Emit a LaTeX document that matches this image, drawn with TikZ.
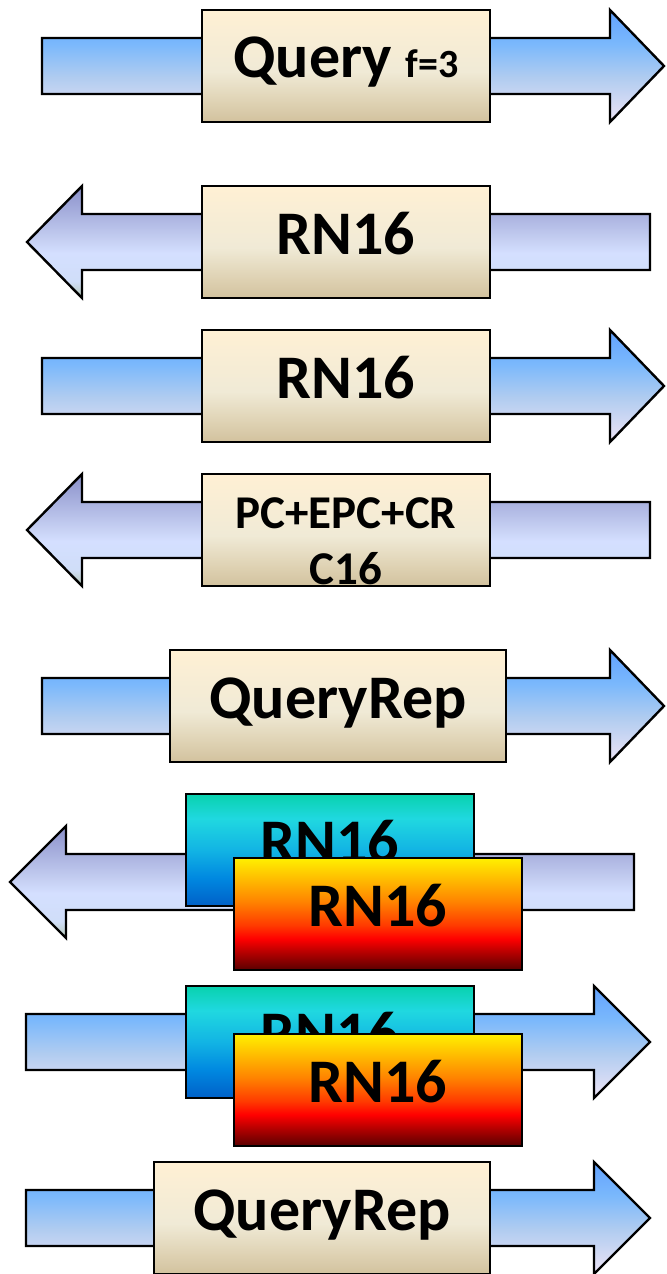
\documentclass[tikz,border=0pt]{standalone}
\usepackage{fontspec}
\setmainfont{Carlito}

% fill colours
\definecolor{beigeA}{HTML}{FFF0D4}
\definecolor{beigeB}{HTML}{F0EAD6}
\definecolor{beigeC}{HTML}{E0D4B6}
\definecolor{beigeD}{HTML}{D2C29E}
\definecolor{rarrA}{HTML}{62A2FF}
\definecolor{rarrB}{HTML}{7AB8FC}
\definecolor{rarrC}{HTML}{B0CCF0}
\definecolor{rarrD}{HTML}{EDE4F6}
\definecolor{larrA}{HTML}{8A90CA}
\definecolor{larrB}{HTML}{C8D2F4}
\definecolor{larrC}{HTML}{D4DFFF}
\definecolor{larrD}{HTML}{D0DEF8}
\definecolor{larrE}{HTML}{B5C8B5}
\definecolor{cyA}{HTML}{08D2AE}
\definecolor{cyB}{HTML}{20D8E0}
\definecolor{cyC}{HTML}{12B4E4}
\definecolor{cyD}{HTML}{0088E0}
\definecolor{cyE}{HTML}{0060C8}
\definecolor{hotA}{HTML}{FFF000}
\definecolor{hotB}{HTML}{FFB800}
\definecolor{hotC}{HTML}{FF8000}
\definecolor{hotD}{HTML}{FF3A00}
\definecolor{hotE}{HTML}{FF0000}
\definecolor{hotF}{HTML}{B00000}
\definecolor{hotG}{HTML}{5A0000}

% vertical shadings (the filled shape spans 25bp..75bp)
\pgfdeclareverticalshading{beigefill}{100bp}{color(0bp)=(beigeD); color(25bp)=(beigeD); color(35bp)=(beigeC); color(47.5bp)=(beigeB); color(75bp)=(beigeA); color(100bp)=(beigeA)}
\pgfdeclareverticalshading{rarrfill}{100bp}{color(0bp)=(rarrD); color(25bp)=(rarrD); color(45bp)=(rarrC); color(60bp)=(rarrB); color(75bp)=(rarrA); color(100bp)=(rarrA)}
\pgfdeclareverticalshading{larrfill}{100bp}{color(0bp)=(larrE); color(25bp)=(larrE); color(32.5bp)=(larrD); color(45bp)=(larrC); color(50bp)=(larrB); color(75bp)=(larrA); color(100bp)=(larrA)}
\pgfdeclareverticalshading{cyanfill}{100bp}{color(0bp)=(cyE); color(25bp)=(cyE); color(37.5bp)=(cyD); color(50bp)=(cyC); color(64bp)=(cyB); color(75bp)=(cyA); color(100bp)=(cyA)}
\pgfdeclareverticalshading{hotfill}{100bp}{color(0bp)=(hotG); color(25bp)=(hotG); color(32.5bp)=(hotF); color(39bp)=(hotE); color(45bp)=(hotD); color(55bp)=(hotC); color(65bp)=(hotB); color(75bp)=(hotA); color(100bp)=(hotA)}

\tikzset{
  outline/.style={draw=black, line width=1.2pt},
  outarrow/.style={outline, shading=rarrfill},
  inarrow/.style={outline, shading=larrfill},
  framebox/.style={outline, rectangle, inner sep=0pt, minimum height=56pt, minimum width=144pt},
  widebox/.style={framebox, minimum width=168pt},
  beige/.style={shading=beigefill},
  cyanbox/.style={shading=cyanfill},
  hotbox/.style={shading=hotfill},
  lbl/.style={inner sep=0pt, anchor=base, font=\bfseries\fontsize{31}{37}\selectfont},
  smalllbl/.style={lbl, font=\bfseries\fontsize{23.5}{28}\selectfont},
}

% block arrow: style, shaft end x, head base x, tip x, centre y
\newcommand\msgarrow[5]{%
  \path[#1] (#2,#5-28) -- (#3,#5-28) -- (#3,#5-56) -- (#4,#5)
    -- (#3,#5+56) -- (#3,#5+28) -- (#2,#5+28) -- cycle;}

\begin{document}
\begin{tikzpicture}[x=0.5pt, y=-0.5pt]
\useasboundingbox (0,0) rectangle (666,1274);

% Query
\msgarrow{outarrow}{42}{610}{664}{66}
\node[framebox, beige] (b1) at (346,66) {};
\node[lbl] (t1) at ([yshift=-5.5pt]b1.center) {Query {\fontsize{20}{24}\selectfont f=3}};

% RN16 reply
\msgarrow{inarrow}{650}{82}{27}{242}
\node[framebox, beige] (b2) at (346,242) {};
\node[lbl] (t2) at ([yshift=-6.3pt]b2.center) {RN16};

% RN16 ack
\msgarrow{outarrow}{42}{610}{664}{386}
\node[framebox, beige] (b3) at (346,386) {};
\node[lbl] (t3) at ([yshift=-6.3pt]b3.center) {RN16};

% PC+EPC+CRC16
\msgarrow{inarrow}{650}{82}{27}{530}
\node[framebox, beige] (b4) at (346,530) {};
\node[smalllbl] (t4a) at ([yshift=1pt]b4.center) {PC+EPC+CR};
\node[smalllbl] (t4b) at ([yshift=-27pt]b4.center) {C16};

% QueryRep
\msgarrow{outarrow}{42}{610}{664}{706}
\node[widebox, beige] (b5) at (338,706) {};
\node[lbl] (t5) at ([yshift=-6.3pt]b5.center) {QueryRep};

% colliding replies
\msgarrow{inarrow}{634}{66}{10}{882}
\node[framebox, cyanbox] (c6) at (330,850) {};
\node[lbl] (u6) at ([yshift=-6.3pt]c6.center) {RN16};
\node[framebox, hotbox] (r6) at (378,914) {};
\node[lbl] (v6) at ([yshift=-6.3pt]r6.center) {RN16};

% echoed collision
\msgarrow{outarrow}{26}{594}{650}{1042}
\node[framebox, cyanbox] (c7) at (330,1042) {};
\node[lbl] (u7) at ([yshift=-6.3pt]c7.center) {RN16};
\node[framebox, hotbox] (r7) at (378,1090) {};
\node[lbl] (v7) at ([yshift=-6.3pt]r7.center) {RN16};

% QueryRep
\msgarrow{outarrow}{26}{594}{650}{1218}
\node[widebox, beige] (b8) at (322,1218) {};
\node[lbl] (t8) at ([yshift=-6.3pt]b8.center) {QueryRep};
\end{tikzpicture}
\end{document}
